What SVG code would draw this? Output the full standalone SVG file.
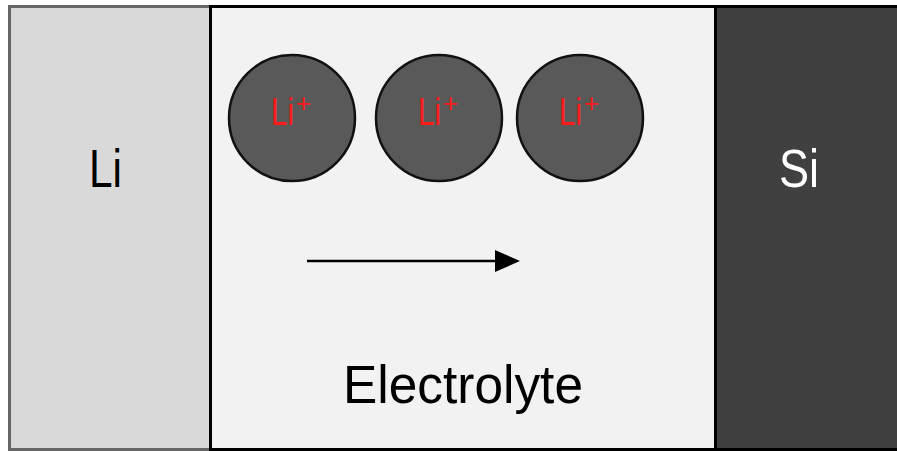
<svg xmlns="http://www.w3.org/2000/svg" width="897" height="451" viewBox="0 0 897 451">
<style>
.lbl{font-family:"Liberation Sans",Arial,sans-serif;}
.ion circle{fill:#595959;stroke:#111;stroke-width:2.5;}
.ion text{fill:#ff1a1a;font-family:"Liberation Sans",Arial,sans-serif;font-size:39px;}
</style>
<defs>
<marker id="arr" viewBox="0 -12 26 24" refX="0" refY="0" markerWidth="26" markerHeight="24" markerUnits="userSpaceOnUse" orient="auto">
<path d="M0,-11 L25,0 L0,11 z" fill="#000"/>
</marker>
</defs>
<rect width="897" height="451" fill="#fff"/>
<g id="li-electrode">
<rect x="9.5" y="6.5" width="201" height="443" fill="#d9d9d9" stroke="#666" stroke-width="3"/>
<text class="lbl" x="89" y="187" font-size="54" textLength="33" lengthAdjust="spacingAndGlyphs" fill="#000">Li</text>
</g>
<g id="electrolyte">
<rect x="210.5" y="6.5" width="505" height="443" fill="#f2f2f2" stroke="#000" stroke-width="3"/>
<text class="lbl" x="343" y="403" font-size="53" textLength="240" lengthAdjust="spacingAndGlyphs" fill="#000">Electrolyte</text>
</g>
<g id="si-electrode">
<rect x="715.5" y="6.5" width="200" height="443" fill="#404040" stroke="#000" stroke-width="3"/>
<text class="lbl" x="779" y="187" font-size="54" textLength="40" lengthAdjust="spacingAndGlyphs" fill="#fff">Si</text>
</g>
<g id="ion1" class="ion">
<circle cx="292" cy="118" r="63"/>
<text x="271" y="125"><tspan textLength="23" lengthAdjust="spacingAndGlyphs">Li</tspan><tspan x="296" y="112" font-size="26">+</tspan></text>
</g>
<g id="ion2" class="ion">
<circle cx="439" cy="118" r="63"/>
<text x="418" y="125"><tspan textLength="23" lengthAdjust="spacingAndGlyphs">Li</tspan><tspan x="443" y="112" font-size="26">+</tspan></text>
</g>
<g id="ion3" class="ion">
<circle cx="580" cy="118" r="63"/>
<text x="559" y="125"><tspan textLength="23" lengthAdjust="spacingAndGlyphs">Li</tspan><tspan x="584" y="112" font-size="26">+</tspan></text>
</g>
<g id="connectors">
<line x1="307" y1="261" x2="495" y2="261" stroke="#000" stroke-width="2.7" marker-end="url(#arr)"/>
</g>
</svg>
